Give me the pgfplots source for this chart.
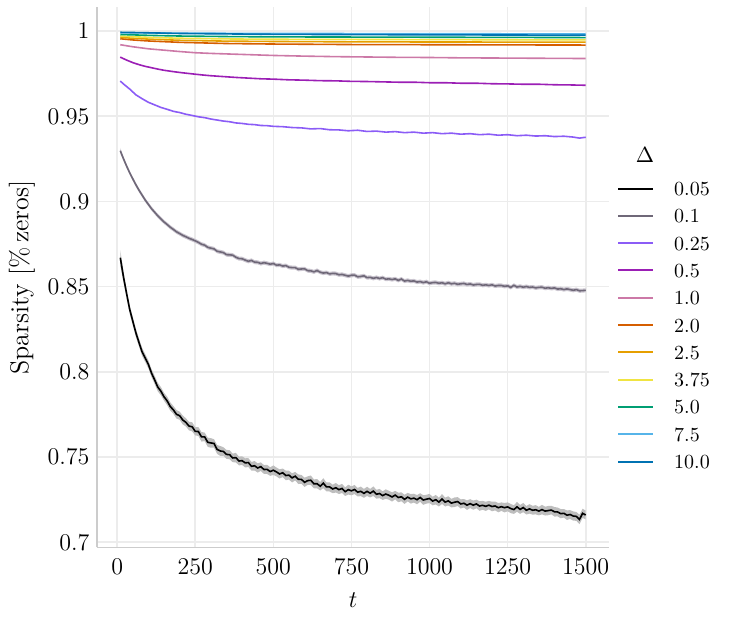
\documentclass[border=0pt]{standalone}
\usepackage{pgfplots}
\usepackage{pgfplotstable}
\pgfplotsset{compat=1.18}
\usepgfplotslibrary{fillbetween}
\definecolor{c005}{HTML}{000000}
\definecolor{c01}{HTML}{6F6878}
\definecolor{c025}{HTML}{8B5CF6}
\definecolor{c05}{HTML}{9B1FB5}
\definecolor{c1}{HTML}{CC79A7}
\definecolor{c2}{HTML}{D55E00}
\definecolor{c25}{HTML}{E69F00}
\definecolor{c375}{HTML}{F0E442}
\definecolor{c5}{HTML}{009E73}
\definecolor{c75}{HTML}{56B4E9}
\definecolor{c10}{HTML}{0072B2}
\definecolor{bandA}{HTML}{BEBEBE}
\definecolor{bandB}{HTML}{CBC6D0}

\pgfplotstableread{
t m w
10 .8670 .0045
20 .8560 .0032
30 .8462 .0026
40 .8368 .0025
50 .8298 .0024
60 .8229 .0024
70 .8172 .0023
80 .8117 .0024
90 .8081 .0023
100 .8044 .0024
110 .7993 .0023
120 .7953 .0024
130 .7911 .0025
140 .7887 .0024
150 .7854 .0023
160 .7830 .0025
170 .7797 .0024
180 .7777 .0023
190 .7751 .0025
200 .7743 .0024
210 .7718 .0026
220 .7704 .0024
230 .7682 .0025
240 .7678 .0027
250 .7651 .0024
260 .7650 .0026
270 .7619 .0028
280 .7619 .0025
290 .7587 .0027
300 .7583 .0028
310 .7580 .0025
320 .7545 .0026
330 .7536 .0029
340 .7533 .0025
350 .7516 .0026
360 .7514 .0027
370 .7495 .0025
380 .7497 .0028
390 .7477 .0026
400 .7479 .0025
410 .7466 .0027
420 .7468 .0026
430 .7446 .0025
440 .7449 .0028
450 .7436 .0027
460 .7444 .0025
470 .7427 .0026
480 .7428 .0027
490 .7415 .0025
500 .7423 .0028
510 .7413 .0026
520 .7401 .0027
530 .7408 .0025
540 .7392 .0028
550 .7394 .0026
560 .7378 .0027
570 .7388 .0025
580 .7370 .0028
590 .7369 .0026
600 .7352 .0027
610 .7362 .0025
620 .7364 .0028
630 .7343 .0026
640 .7344 .0027
650 .7329 .0025
660 .7347 .0029
670 .7325 .0026
680 .7325 .0027
690 .7313 .0025
700 .7320 .0028
710 .7309 .0026
720 .7316 .0027
730 .7297 .0025
740 .7309 .0029
750 .7302 .0026
760 .7310 .0027
770 .7294 .0025
780 .7299 .0028
790 .7287 .0026
800 .7299 .0027
810 .7288 .0025
820 .7300 .0028
830 .7282 .0026
840 .7286 .0027
850 .7274 .0025
860 .7283 .0028
870 .7276 .0026
880 .7266 .0027
890 .7277 .0025
900 .7263 .0028
910 .7267 .0026
920 .7252 .0027
930 .7265 .0025
940 .7255 .0028
950 .7259 .0026
960 .7250 .0027
970 .7263 .0025
980 .7248 .0028
990 .7253 .0026
1000 .7257 .0027
1010 .7242 .0025
1020 .7250 .0028
1030 .7236 .0026
1040 .7254 .0029
1050 .7236 .0026
1060 .7243 .0027
1070 .7230 .0025
1080 .7235 .0028
1090 .7239 .0026
1100 .7225 .0027
1110 .7229 .0025
1120 .7218 .0028
1130 .7227 .0026
1140 .7218 .0027
1150 .7225 .0025
1160 .7213 .0028
1170 .7217 .0026
1180 .7211 .0027
1190 .7218 .0025
1200 .7210 .0028
1210 .7213 .0026
1220 .7203 .0027
1230 .7209 .0025
1240 .7203 .0028
1250 .7208 .0026
1260 .7198 .0027
1270 .7192 .0025
1280 .7208 .0029
1290 .7193 .0026
1300 .7204 .0027
1310 .7188 .0025
1320 .7196 .0028
1330 .7188 .0026
1340 .7191 .0027
1350 .7183 .0025
1360 .7192 .0028
1370 .7183 .0026
1380 .7186 .0027
1390 .7189 .0025
1400 .7179 .0028
1410 .7178 .0026
1420 .7168 .0027
1430 .7170 .0025
1440 .7159 .0028
1450 .7163 .0026
1460 .7154 .0027
1470 .7152 .0026
1480 .7134 .0028
1490 .7170 .0027
1500 .7160 .0026
}\dA

\pgfplotstableread{
t m w
10 .9298 .0016
20 .9252 .0013
30 .9209 .0012
40 .9169 .0012
50 .9133 .0012
60 .9098 .0012
70 .9066 .0012
80 .9037 .0012
90 .9008 .0012
100 .8983 .0012
110 .8958 .0012
120 .8937 .0012
130 .8916 .0012
140 .8898 .0012
150 .8880 .0012
160 .8865 .0012
170 .8849 .0012
180 .8836 .0012
190 .8822 .0012
200 .8812 .0012
210 .8801 .0012
220 .8793 .0012
230 .8784 .0012
240 .8777 .0012
250 .8769 .0012
260 .8760 .0012
270 .8749 .0012
280 .8744 .0012
290 .8731 .0012
300 .8726 .0012
310 .8722 .0012
320 .8708 .0012
330 .8704 .0012
340 .8700 .0012
350 .8688 .0012
360 .8687 .0012
370 .8685 .0012
380 .8673 .0012
390 .8665 .0012
400 .8664 .0012
410 .8656 .0012
420 .8649 .0012
430 .8654 .0012
440 .8644 .0012
450 .8643 .0012
460 .8636 .0012
470 .8641 .0012
480 .8637 .0012
490 .8632 .0012
500 .8636 .0012
510 .8626 .0012
520 .8628 .0012
530 .8621 .0012
540 .8624 .0012
550 .8614 .0012
560 .8612 .0012
570 .8612 .0012
580 .8602 .0012
590 .8604 .0012
600 .8605 .0012
610 .8594 .0012
620 .8593 .0012
630 .8587 .0012
640 .8595 .0012
650 .8585 .0012
660 .8580 .0012
670 .8583 .0012
680 .8575 .0012
690 .8578 .0012
700 .8577 .0012
710 .8570 .0012
720 .8572 .0012
730 .8567 .0012
740 .8562 .0012
750 .8567 .0012
760 .8568 .0012
770 .8558 .0012
780 .8560 .0012
790 .8564 .0012
800 .8553 .0012
810 .8555 .0012
820 .8549 .0012
830 .8554 .0012
840 .8548 .0012
850 .8553 .0012
860 .8544 .0012
870 .8546 .0012
880 .8542 .0012
890 .8546 .0012
900 .8537 .0012
910 .8545 .0012
920 .8533 .0012
930 .8537 .0012
940 .8532 .0012
950 .8534 .0012
960 .8527 .0012
970 .8530 .0012
980 .8524 .0012
990 .8529 .0012
1000 .8520 .0012
1010 .8524 .0012
1020 .8525 .0012
1030 .8520 .0012
1040 .8523 .0012
1050 .8517 .0012
1060 .8523 .0012
1070 .8517 .0012
1080 .8520 .0012
1090 .8514 .0012
1100 .8517 .0012
1110 .8519 .0012
1120 .8513 .0012
1130 .8516 .0012
1140 .8510 .0012
1150 .8513 .0012
1160 .8514 .0012
1170 .8508 .0012
1180 .8511 .0012
1190 .8507 .0012
1200 .8511 .0012
1210 .8504 .0012
1220 .8507 .0012
1230 .8507 .0012
1240 .8502 .0012
1250 .8505 .0012
1260 .8496 .0012
1270 .8508 .0012
1280 .8498 .0012
1290 .8502 .0012
1300 .8497 .0012
1310 .8501 .0012
1320 .8496 .0012
1330 .8498 .0012
1340 .8493 .0012
1350 .8496 .0012
1360 .8497 .0012
1370 .8491 .0012
1380 .8494 .0012
1390 .8490 .0012
1400 .8493 .0012
1410 .8486 .0012
1420 .8488 .0012
1430 .8483 .0012
1440 .8487 .0012
1450 .8483 .0012
1460 .8479 .0012
1470 .8483 .0012
1480 .8476 .0012
1490 .8477 .0012
1500 .8479 .0012
}\dB

\pgfplotstableread{
t m
10 .9707
20 .9690
40 .9660
60 .9626
80 .9603
100 .9582
120 .9567
140 .9552
160 .9541
180 .9529
200 .9522
220 .9512
240 .9505
260 .9497
280 .9492
300 .9484
320 .9478
340 .9472
360 .9468
380 .9461
400 .9458
420 .9453
440 .9451
460 .9446
480 .9445
500 .9441
530 .9439
560 .9434
590 .9432
620 .9426
650 .9428
680 .9421
710 .9420
740 .9415
770 .9418
800 .9411
830 .9413
860 .9407
890 .9410
920 .9404
950 .9407
980 .9401
1010 .9404
1040 .9398
1070 .9401
1100 .9395
1130 .9398
1160 .9392
1190 .9395
1220 .9389
1250 .9392
1280 .9386
1310 .9389
1340 .9384
1370 .9386
1400 .9381
1430 .9383
1460 .9378
1480 .9372
1500 .9377
}\dC

\pgfplotstableread{
t m
10 .9847
30 .9830
50 .9815
70 .9803
90 .9793
110 .9785
130 .9777
150 .9770
180 .9762
210 .9755
240 .9749
270 .9743
300 .9738
340 .9733
380 .9728
420 .9724
460 .9720
500 .9718
550 .9714
600 .9712
650 .9709
700 .9708
750 .9705
800 .9704
850 .9702
900 .9700
950 .9700
1000 .9697
1050 .9697
1100 .9694
1150 .9694
1200 .9691
1250 .9690
1300 .9688
1350 .9688
1400 .9685
1450 .9684
1500 .9682
}\dD

\pgfplotstableread{
t m
10 .9920
50 .9908
100 .9896
150 .9888
200 .9880
250 .9873
300 .9869
400 .9863
500 .9857
600 .9853
700 .9850
800 .9848
900 .9846
1000 .9845
1100 .9843
1200 .9842
1300 .9841
1400 .9840
1500 .9839
}\dE

\begin{document}
\begin{tikzpicture}
\begin{axis}[
  scale only axis, width=256pt, height=270pt,
  xmin=-64.5, xmax=1574.5, ymin=0.697, ymax=1.0139,
  axis x line*=bottom, axis y line*=left,
  axis line style={draw=gray!40, line width=0.9pt, -},
  xtick={0,250,500,750,1000,1250,1500},
  xticklabels={$0$,$250$,$500$,$750$,$1000$,$1250$,$1500$},
  ytick={0.7,0.75,0.8,0.85,0.9,0.95,1},
  yticklabels={$0.7$,$0.75$,$0.8$,$0.85$,$0.9$,$0.95$,$1$},
  grid=major, major grid style={draw=gray!15, line width=0.8pt},
  major tick length=0pt,
  tick label style={font=\fontsize{11.5}{13}\selectfont},
  xticklabel style={yshift=-2.5pt},
  yticklabel style={xshift=-0.3pt},
  xlabel={$t$}, ylabel={Sparsity [\%\,zeros]},
  label style={font=\fontsize{13}{15}\selectfont},
  xlabel style={at={(axis description cs:0.5,-0.098)}, anchor=center},
  ylabel style={at={(axis description cs:-0.1465,0.5)}, anchor=center},
  legend style={at={(axis description cs:1.004,0.6856)}, anchor=north west,
    draw=none, fill=none, nodes={inner sep=0pt, text height=7pt, text depth=0pt},
    row sep=6.65pt},
  legend cell align=left,
  legend image code/.code={\draw[#1, line width=1pt] (0pt,0pt) -- (17.5pt,0pt); \path (27.5pt,0pt);},
]
\addplot[draw=none, forget plot, name path=uA] table[x=t, y expr=\thisrow{m}+\thisrow{w}]{\dA};
\addplot[draw=none, forget plot, name path=lA] table[x=t, y expr=\thisrow{m}-\thisrow{w}]{\dA};
\addplot[fill=bandA, draw=none, forget plot] fill between[of=uA and lA];
\addplot[draw=none, forget plot, name path=uB] table[x=t, y expr=\thisrow{m}+\thisrow{w}]{\dB};
\addplot[draw=none, forget plot, name path=lB] table[x=t, y expr=\thisrow{m}-\thisrow{w}]{\dB};
\addplot[fill=bandB, draw=none, forget plot] fill between[of=uB and lB];

\addplot[c005, line width=0.8pt] table[x=t,y=m]{\dA};
\addlegendentry{0.05}
\addplot[c01, line width=0.8pt] table[x=t,y=m]{\dB};
\addlegendentry{0.1}
\addplot[c025, line width=0.8pt] table[x=t,y=m]{\dC};
\addlegendentry{0.25}
\addplot[c05, line width=0.8pt] table[x=t,y=m]{\dD};
\addlegendentry{0.5}
\addplot[c1, line width=0.8pt] table[x=t,y=m]{\dE};
\addlegendentry{1.0}
\addplot[c2, line width=0.8pt] coordinates {(10,.9955) (50,.9948) (100,.9942) (200,.9934) (350,.9927) (500,.9924) (750,.9921) (1000,.9920) (1250,.9919) (1500,.9918)};
\addlegendentry{2.0}
\addplot[c25, line width=0.8pt] coordinates {(10,.9963) (50,.9958) (100,.9953) (200,.9946) (350,.9941) (500,.9939) (750,.9937) (1000,.9936) (1500,.9935)};
\addlegendentry{2.5}
\addplot[c375, line width=0.8pt] coordinates {(10,.9971) (50,.9967) (100,.9963) (200,.9958) (350,.9954) (500,.9952) (1000,.9950) (1500,.9948)};
\addlegendentry{3.75}
\addplot[c5, line width=0.8pt] coordinates {(10,.9980) (100,.9975) (200,.9971) (350,.9968) (500,.9966) (1000,.9964) (1500,.9962)};
\addlegendentry{5.0}
\addplot[c75, line width=0.8pt] coordinates {(10,.9990) (200,.9988) (500,.9986) (1000,.9985) (1500,.9983)};
\addlegendentry{7.5}
\addplot[c10, line width=0.8pt] coordinates {(10,.9993) (100,.9990) (200,.9986) (500,.9981) (1000,.9978) (1500,.9976)};
\addlegendentry{10.0}
\end{axis}
\node[font=\fontsize{10.5}{12}\selectfont] at ([shift={(274pt,196pt)}]current axis.south west) {$\Delta$};
\pgfresetboundingbox
\path[use as bounding box] ([shift={(-48.5pt,-38pt)}]current axis.south west) rectangle ([shift={(60.5pt,3.7pt)}]current axis.north east);
\end{tikzpicture}
\end{document}
